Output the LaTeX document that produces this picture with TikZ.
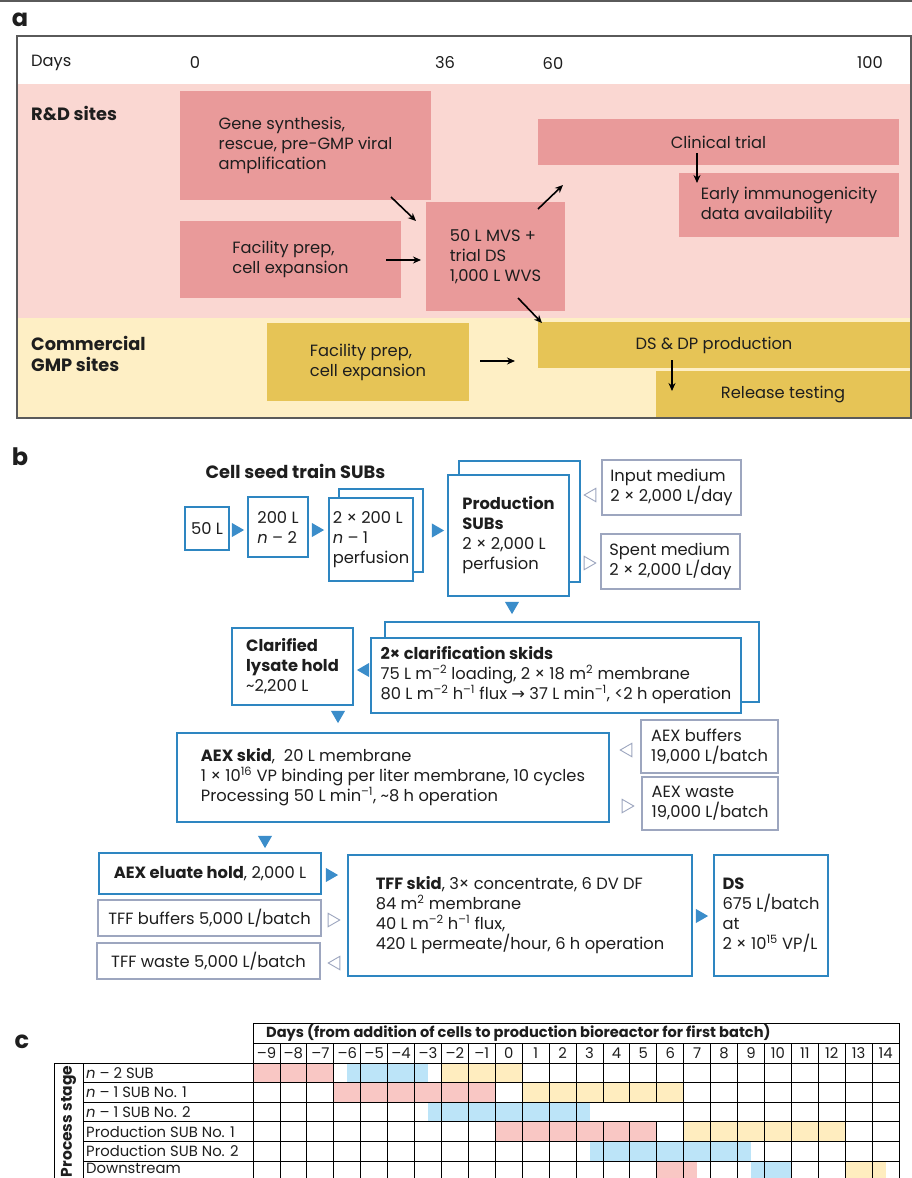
\documentclass[tikz,border=0pt]{standalone}
\usepackage{fontspec}
\setmainfont{Poppins}
\newfontfamily\dv{DejaVu Sans}
\usetikzlibrary{shapes.geometric,arrows.meta,calc}
\definecolor{rdband}{HTML}{FAD7D2}
\definecolor{rdbox}{HTML}{E99A9A}
\definecolor{gmpband}{HTML}{FEEFC5}
\definecolor{gmpbox}{HTML}{E6C456}
\definecolor{bblue}{HTML}{2E86C1}
\definecolor{tblue}{HTML}{3B8DCA}
\definecolor{bgray}{HTML}{9DA6BF}
\definecolor{cpink}{HTML}{F9C7C4}
\definecolor{cblue}{HTML}{BCE4F8}
\definecolor{cyellow}{HTML}{FFEDBF}
\definecolor{txt}{HTML}{1E1E1E}
\definecolor{frame}{HTML}{5A5A5A}
\newcommand\fs{\fontsize{16.3}{20}\selectfont}
\newcommand\hfs{\fontsize{17.8}{21}\selectfont\bfseries}
\newcommand\tfs{\fontsize{14.8}{16}\selectfont}
\newcommand\thfs{\fontsize{14.6}{16}\selectfont\bfseries}
\begin{document}
\begin{tikzpicture}[x=1pt,y=-1pt,
  every node/.style={text=txt, font=\fs},
  rdb/.style={fill=rdbox, inner sep=0pt, align=left},
  gmb/.style={fill=gmpbox, inner sep=0pt, align=left},
  bbox/.style={draw=bblue, line width=1.3pt, fill=white, inner sep=0pt, align=left},
  gbox/.style={draw=bgray, line width=1.3pt, fill=white, inner sep=0pt, align=left},
  tri/.style={regular polygon, regular polygon sides=3, fill=tblue, inner sep=0pt, minimum size=16.2pt},
  htri/.style={regular polygon, regular polygon sides=3, draw=bgray, line width=0.9pt, fill=white, inner sep=0pt, minimum size=15.5pt},
  arr/.style={-{Stealth[length=8pt,width=7pt]}, line width=1.6pt, black},
  panel/.style={font=\fontsize{24}{24}\bfseries\selectfont, inner sep=0pt},
  grid/.style={line width=0.8pt, black}
]
\clip (0,0) rectangle (912,1178);
\fill[white] (0,0) rectangle (912,1178);
\draw[line width=2pt, frame] (0,1) -- (912,1);

% ---------------- panel a ----------------
\node[panel] (pa) at (20,20) {a};
\fill[rdband] (17,84) rectangle (911,318);
\fill[gmpband] (17,318) rectangle (911,418);
\draw[line width=1.3pt, frame] (17,36) rectangle (911,418);

\node[anchor=west, inner sep=0pt] (days) at (31,63) {Days};
\node[inner sep=0pt] (d0) at (195,63) {0};
\node[inner sep=0pt] (d36) at (445,63) {36};
\node[inner sep=0pt] (d60) at (553,63) {60};
\node[inner sep=0pt] (d100) at (870,63) {100};
\node[anchor=west, inner sep=0pt, font=\hfs] (rdl) at (31,113) {R\&D sites};
\node[anchor=west, inner sep=0pt, font=\hfs, align=left] (gmpl) at (31,354) {Commercial\\GMP sites};

\node[rdb, minimum width=251pt, minimum height=109pt] (gene) at (305.5,145.5) {Gene synthesis,\\rescue, pre-GMP viral\\amplification};
\node[rdb, minimum width=221pt, minimum height=77pt] (facrd) at (290.5,259.5) {Facility prep,\\cell expansion};
\node[rdb, minimum width=139pt, minimum height=109pt] (mvs) at (495.5,256.5) {50 L MVS +\\trial DS\\1,000 L WVS};
\node[rdb, minimum width=361pt, minimum height=46pt] (clin) at (718.5,142) {Clinical trial};
\node[rdb, minimum width=220pt, minimum height=64pt] (early) at (789,205) {Early immunogenicity\\data availability};
\node[gmb, minimum width=202pt, minimum height=78pt] (facgmp) at (368,362) {Facility prep,\\cell expansion};
\node[gmb, minimum width=372pt, minimum height=46pt] (dsdp) at (724,345) {};
\node[inner sep=0pt] (dsdpt) at (714,345) {DS \& DP production};
\node[gmb, minimum width=254pt, minimum height=46pt] (rel) at (783,394) {Release testing};

\coordinate (a1s) at (391,197); \coordinate (a1e) at (416,221);
\coordinate (a2s) at (386,260); \coordinate (a2e) at (421,260);
\coordinate (a3s) at (538,209); \coordinate (a3e) at (563,185);
\coordinate (a4s) at (518,298); \coordinate (a4e) at (542,323);
\coordinate (a5s) at (697,153); \coordinate (a5e) at (697,183);
\coordinate (a6s) at (480,361); \coordinate (a6e) at (515,361);
\coordinate (a7s) at (672,360); \coordinate (a7e) at (672,391);
\draw[arr] (a1s) -- (a1e);
\draw[arr] (a2s) -- (a2e);
\draw[arr] (a3s) -- (a3e);
\draw[arr] (a4s) -- (a4e);
\draw[arr] (a5s) -- (a5e);
\draw[arr] (a6s) -- (a6e);
\draw[arr] (a7s) -- (a7e);

% ---------------- panel b ----------------
\node[panel] (pb) at (20,457) {b};
\node[font=\hfs, inner sep=0pt] (seedt) at (295.5,471) {Cell seed train SUBs};

\node[bbox, minimum width=44pt, minimum height=43pt] (b50) at (207,528.5) {50 L};
\node[bbox, minimum width=60pt, minimum height=60pt] (b200) at (278,527) {200 L\\\textit{n} – 2};
\node[bbox, minimum width=84pt, minimum height=83pt] (b2back) at (381,530.5) {};
\node[bbox, minimum width=84pt, minimum height=83pt] (b2) at (371,539.5) {2 × 200 L\\\textit{n} – 1\\perfusion};
\node[bbox, minimum width=121pt, minimum height=121pt] (prodback) at (519.5,521.5) {};
\node[bbox, minimum width=121pt, minimum height=121pt] (prod) at (508.5,535.5) {\textbf{Production}\\\textbf{SUBs}\\2 × 2,000 L\\perfusion};
\node[gbox, minimum width=139pt, minimum height=55pt] (inmed) at (671.5,487.5) {Input medium\\2 × 2,000 L/day};
\node[gbox, minimum width=139pt, minimum height=55pt] (spent) at (670.5,561.5) {Spent medium\\2 × 2,000 L/day};
\node[bbox, minimum width=374pt, minimum height=80pt] (clarback) at (572,662) {};
\node[bbox, minimum width=370pt, minimum height=75pt] (clar) at (556,675.5) {\textbf{2× clarification skids}\\75 L m\textsuperscript{–2} loading, 2 × 18 m\textsuperscript{2} membrane\\80 L m\textsuperscript{–2} h\textsuperscript{–1} flux {\dv→} 37 L min\textsuperscript{–1}, <2 h operation};
\node[bbox, minimum width=121pt, minimum height=77pt] (lysate) at (292.5,666.5) {\textbf{Clarified}\\\textbf{lysate hold}\\\textasciitilde2,200 L};
\node[bbox, minimum width=432pt, minimum height=89pt] (aex) at (393,777.5) {\textbf{AEX skid},\ \ 20 L membrane\\1 × 10\textsuperscript{16} VP binding per liter membrane, 10 cycles\\Processing 50 L min\textsuperscript{–1}, \textasciitilde8 h operation};
\node[gbox, minimum width=137pt, minimum height=53pt] (aexbuf) at (709.5,746.5) {AEX buffers\\19,000 L/batch};
\node[gbox, minimum width=136pt, minimum height=53pt] (aexwaste) at (710,803.5) {AEX waste\\19,000 L/batch};
\node[bbox, minimum width=222pt, minimum height=41pt] (eluate) at (210,873.5) {\textbf{AEX eluate hold}, 2,000 L};
\node[gbox, minimum width=223pt, minimum height=36pt] (tffbuf) at (209.5,918) {TFF buffers 5,000 L/batch};
\node[gbox, minimum width=223pt, minimum height=36pt] (tffwaste) at (208.5,961) {TFF waste 5,000 L/batch};
\node[bbox, minimum width=344pt, minimum height=121pt] (tff) at (520,915.5) {\textbf{TFF skid}, 3× concentrate, 6 DV DF\\84 m\textsuperscript{2} membrane\\40 L m\textsuperscript{–2} h\textsuperscript{–1} flux,\\420 L permeate/hour, 6 h operation};
\node[bbox, minimum width=114pt, minimum height=121pt] (ds) at (771,915.5) {\textbf{DS}\\675 L/batch\\at\\2 × 10\textsuperscript{15} VP/L};

% flow markers
\node[tri, shape border rotate=-90] (t1) at (236,530) {};
\node[tri, shape border rotate=-90] (t2) at (316,530) {};
\node[tri, shape border rotate=-90] (t3) at (436,530.5) {};
\node[tri, shape border rotate=180] (t4) at (512,606) {};
\node[tri, shape border rotate=90] (t5) at (365,670) {};
\node[tri, shape border rotate=180] (t6) at (338,715) {};
\node[tri, shape border rotate=180] (t7) at (265,840) {};
\node[tri, shape border rotate=-90] (t8) at (330,875) {};
\node[tri, shape border rotate=-90] (t9) at (700,916) {};
\node[htri, shape border rotate=90] (h1) at (592,495) {};
\node[htri, shape border rotate=-90] (h2) at (588,563) {};
\node[htri, shape border rotate=90] (h3) at (628,750) {};
\node[htri, shape border rotate=-90] (h4) at (626,806) {};
\node[htri, shape border rotate=-90] (h5) at (332,920) {};
\node[htri, shape border rotate=90] (h6) at (336,963) {};

% ---------------- panel c ----------------
\node[panel] (pc) at (22,1042) {c};
\foreach \a/\b/\r/\c in {0/3/0/cpink, 3.5/6.5/0/cblue, 7/10/0/cyellow,
  3/9/1/cpink, 10/16/1/cyellow,
  6.5/12.5/2/cblue,
  9/15/3/cpink, 16/22/3/cyellow,
  12.5/18.5/4/cblue,
  15/16.5/5/cpink, 18.5/20/5/cblue, 22/23.5/5/cyellow}
  \fill[\c] ({253+26.92*\a},{1063+19.6*\r}) rectangle ({253+26.92*\b},{1063+19.6*(\r+1)});
\foreach \k in {1,...,23} \draw[grid] ({253+26.92*\k},1043) -- ({253+26.92*\k},1182);
\draw[grid] (253,1023) -- (253,1182);
\draw[grid] (899,1023) -- (899,1182);
\draw[grid] (253,1023) -- (899,1023);
\foreach \y in {1043,1063,1082.6,1102.2,1121.8,1141.4,1161} \draw[grid] (253,\y) -- (899,\y);
\fill[white] ({253+26.92*12.5},1102.7) rectangle ({253+26.92*16-0.6},1121.3);
\draw[grid] (54,1063) -- (253,1063);
\draw[grid] (54,1063) -- (54,1182);
\draw[grid] (83,1063) -- (83,1182);
\foreach \y in {1082.6,1102.2,1121.8,1141.4,1161} \draw[grid] (83,\y) -- (253,\y);

\node[anchor=west, inner sep=0pt, font=\thfs] (dhdr) at (266,1033) {Days (from addition of cells to production bioreactor for first batch)};
\foreach \d [count=\k from 0] in {–9,–8,–7,–6,–5,–4,–3,–2,–1,0,1,2,3,4,5,6,7,8,9,10,11,12,13,14}
  \node[inner sep=0pt, font=\tfs] (day\k) at ({253+26.92*(\k+0.5)},1053) {\d};
\node[anchor=west, inner sep=0pt, font=\tfs] (r1) at (86,1072.8) {\textit{n} – 2 SUB};
\node[anchor=west, inner sep=0pt, font=\tfs] (r2) at (86,1092.4) {\textit{n} – 1 SUB No. 1};
\node[anchor=west, inner sep=0pt, font=\tfs] (r3) at (86,1112) {\textit{n} – 1 SUB No. 2};
\node[anchor=west, inner sep=0pt, font=\tfs] (r4) at (86,1131.6) {Production SUB No. 1};
\node[anchor=west, inner sep=0pt, font=\tfs] (r5) at (86,1151.2) {Production SUB No. 2};
\node[anchor=base west, inner sep=0pt, font=\tfs] (r6) at (86,1173) {Downstream};
\node[rotate=90, inner sep=0pt, font=\fontsize{15.5}{16}\selectfont\bfseries] (pstage) at (68.5,1121.5) {Process stage};
\end{tikzpicture}
\end{document}
